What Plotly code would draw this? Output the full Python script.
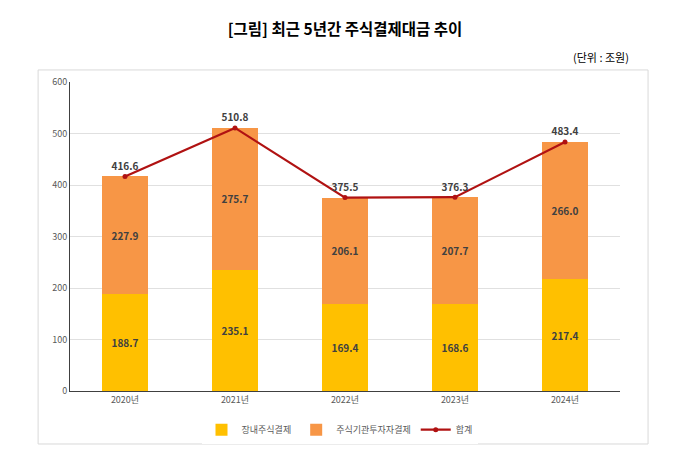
import plotly.graph_objects as go

years = ["2020년", "2021년", "2022년", "2023년", "2024년"]
jangnae = [188.7, 235.1, 169.4, 168.6, 217.4]
gigwan = [227.9, 275.7, 206.1, 207.7, 266.0]
total = [416.6, 510.8, 375.5, 376.3, 483.4]

FONT = "Noto Sans CJK KR"

fig = go.Figure()
fig.add_trace(go.Bar(
    x=years, y=jangnae, name="장내주식결제", marker=dict(color="#FFC000", line=dict(width=0)),
    text=[f"<b>{v:.1f}</b>" for v in jangnae], textposition="inside", insidetextanchor="middle",
    textfont=dict(size=10, color="#404040", family=FONT), width=0.41,
))
fig.add_trace(go.Bar(
    x=years, y=gigwan, name="주식기관투자자결제", marker=dict(color="#F79646", line=dict(width=0)),
    text=[f"<b>{v:.1f}</b>" for v in gigwan], textposition="inside", insidetextanchor="middle",
    textfont=dict(size=10, color="#404040", family=FONT), width=0.41,
))
fig.add_trace(go.Scatter(
    x=years, y=total, name="합계", mode="lines+markers+text",
    line=dict(color="#B01212", width=2.2), marker=dict(size=5, color="#B01212"),
    text=[f"<b>{v:.1f}</b>" for v in total], textposition="top center",
    textfont=dict(size=10, color="#404040", family=FONT),
))

fig.update_layout(
    barmode="stack",
    width=697, height=457,
    margin=dict(l=70, r=77, t=82, b=66),
    paper_bgcolor="white", plot_bgcolor="white",
    font=dict(family=FONT, size=9, color="#595959"),
    title=dict(text="<b>[그림] 최근 5년간 주식결제대금 추이</b>", x=0.5, xref="paper",
               y=1 - 30 / 457, yref="container", xanchor="center", yanchor="middle",
               font=dict(size=15.5, color="#000000", family=FONT)),
    showlegend=True,
    legend=dict(orientation="h", x=0.49, xanchor="center", y=-0.125, yanchor="middle",
                font=dict(size=9, color="#595959", family=FONT), traceorder="normal",
                itemwidth=30),
    xaxis=dict(showline=True, linecolor="#404040", linewidth=1, ticks="",
               tickfont=dict(size=9, color="#595959")),
    yaxis=dict(range=[0, 600], dtick=100, showline=True, linecolor="#404040", linewidth=1,
               gridcolor="#E0E0E0", zeroline=False, ticks="",
               tickfont=dict(size=9, color="#595959")),
    shapes=[dict(type="rect", xref="paper", yref="paper",
                 x0=-0.058, x1=1.051, y0=-0.1715, y1=1.039,
                 line=dict(color="#D9D9D9", width=1), fillcolor="rgba(0,0,0,0)", layer="below")],
    annotations=[dict(text="(단위 : 조원)", xref="paper", yref="paper", x=1.02, y=1.081,
                      xanchor="right", yanchor="middle", showarrow=False,
                      font=dict(size=11, color="#000000", family=FONT))],
)
fig.update_traces(cliponaxis=False, selector=dict(type="scatter"))

fig.write_html("out.html", config={"displayModeBar": False},
               post_script="document.body.style.margin='0';")
